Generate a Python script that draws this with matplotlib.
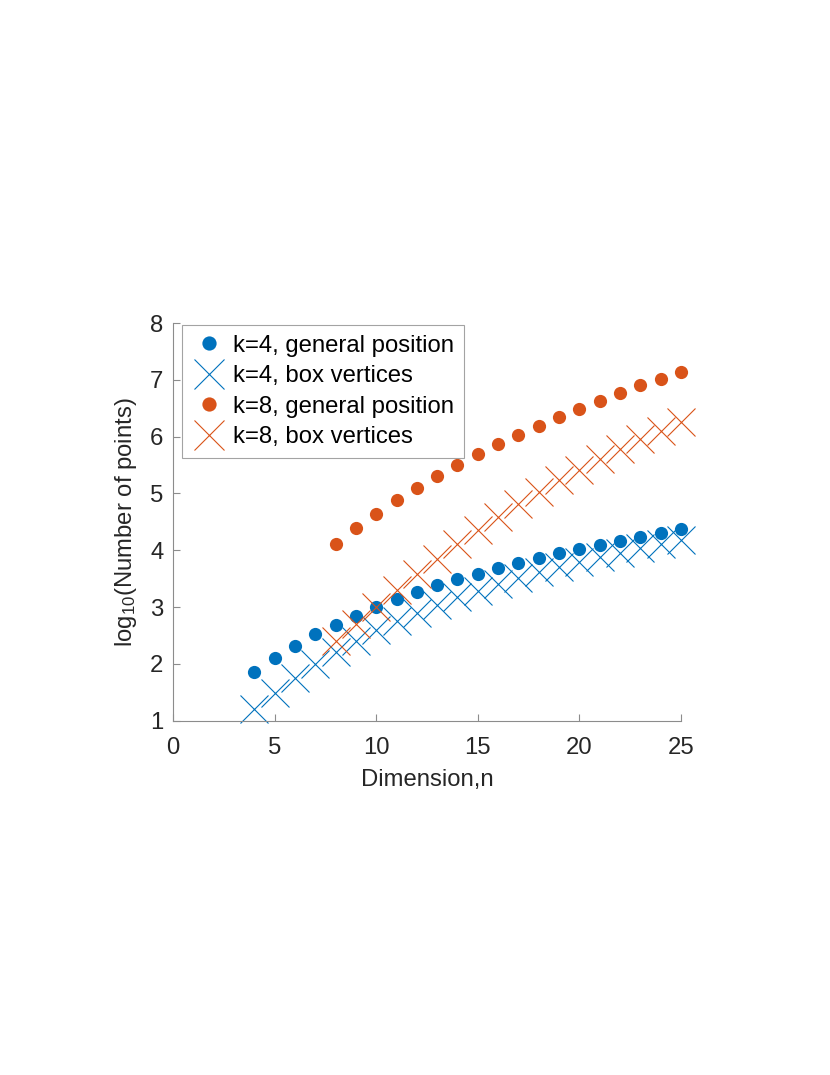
import numpy as np
import matplotlib.pyplot as plt

plt.rcParams['font.family'] = ['Liberation Sans', 'DejaVu Sans']
plt.rcParams['mathtext.default'] = 'regular'

# values (log10 of number of points)
n_k4 = list(range(4, 26))
gen_k4 = [1.85, 2.10, 2.32, 2.52, 2.69, 2.85, 3.00, 3.14, 3.26, 3.38, 3.49,
          3.59, 3.69, 3.78, 3.86, 3.95, 4.03, 4.10, 4.17, 4.24, 4.31, 4.38]
box_k4 = [1.20, 1.49, 1.76, 2.00, 2.21, 2.41, 2.59, 2.75, 2.90, 3.04, 3.17,
          3.29, 3.40, 3.51, 3.61, 3.70, 3.79, 3.88, 3.96, 4.04, 4.11, 4.18]

n_k8 = list(range(8, 26))
gen_k8 = [4.11, 4.39, 4.64, 4.88, 5.10, 5.31, 5.50, 5.69, 5.87, 6.03, 6.19,
          6.35, 6.49, 6.63, 6.77, 6.90, 7.02, 7.14]
box_k8 = [2.41, 2.71, 3.01, 3.30, 3.58, 3.85, 4.11, 4.36, 4.59, 4.82, 5.03,
          5.23, 5.42, 5.60, 5.78, 5.95, 6.10, 6.26]

blue = '#0072BD'
orange = '#D95319'
axcol = '#262626'
fs = 17.2

fig = plt.figure(figsize=(8.3, 10.75), dpi=100)
ax = fig.add_axes([173/830, 1 - 720.7/1075, 508/830, 397.7/1075])

ax.plot(n_k4, gen_k4, 'o', color=blue, ms=9.5, mec='none', clip_on=False,
        label='k=4, general position')
ax.plot(n_k4, box_k4, 'x', color=blue, ms=20, mew=0.8, clip_on=False,
        label='k=4, box vertices')
ax.plot(n_k8, gen_k8, 'o', color=orange, ms=9.5, mec='none', clip_on=False,
        label='k=8, general position')
ax.plot(n_k8, box_k8, 'x', color=orange, ms=20, mew=0.8, clip_on=False,
        label='k=8, box vertices')

ax.set_xlim(0, 25)
ax.set_ylim(1, 8)
ax.set_xticks([0, 5, 10, 15, 20, 25])
ax.set_yticks(range(1, 9))
for s in ['top', 'right']:
    ax.spines[s].set_visible(False)
for s in ['left', 'bottom']:
    ax.spines[s].set_color('#8c8c8c')
    ax.spines[s].set_linewidth(0.8)
ax.tick_params(direction='in', length=5, width=0.8, color='#8c8c8c',
               labelcolor=axcol, labelsize=fs)
ax.tick_params(axis='x', pad=12)
ax.tick_params(axis='y', pad=7)

ax.set_xlabel('Dimension,n', fontsize=fs, color=axcol, labelpad=7)
ax.set_ylabel('log$_{10}$(Number of points)', fontsize=fs, color=axcol, labelpad=8)

leg = ax.legend(loc='upper left', bbox_to_anchor=(182/830, 1 - 325/1075),
                bbox_transform=fig.transFigure, borderaxespad=0,
                fontsize=fs, fancybox=False, frameon=True,
                handlelength=1.5, handletextpad=0.25, labelspacing=0.36,
                borderpad=0.4, markerscale=1.08)
leg.get_frame().set_edgecolor('#8c8c8c')
leg.get_frame().set_linewidth(0.8)
for t in leg.get_texts():
    t.set_color('black')

fig.savefig('out.png', dpi=100)
